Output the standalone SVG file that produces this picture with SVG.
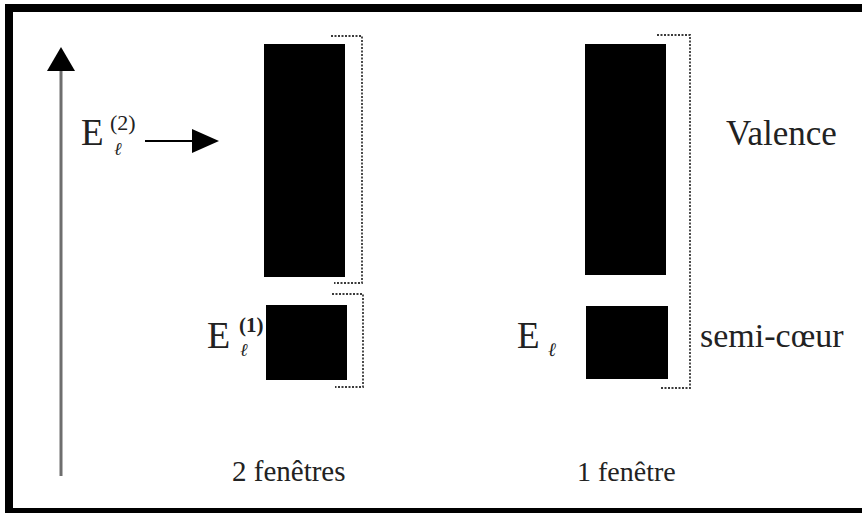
<svg xmlns="http://www.w3.org/2000/svg" width="862" height="513" viewBox="0 0 862 513">
  <defs>
    <style>
      .band { fill: #000; }
      .window { fill: none; stroke: #3a3a3a; stroke-width: 1.8; stroke-dasharray: 2 1.5; }
      .lbl { fill: #222; }
      .frame { fill: #000; }
    </style>
  </defs>

  <rect width="862" height="513" fill="#fff"/>

  <!-- outer frame (open on the right) -->
  <g id="frame">
    <rect class="frame" x="5" y="4" width="857" height="8"/>
    <rect class="frame" x="5" y="4" width="8" height="509"/>
    <rect class="frame" x="5" y="508" width="857" height="5"/>
  </g>

  <!-- energy axis and pointer -->
  <g id="connectors">
    <line x1="61" y1="68" x2="61" y2="476" stroke="#6e6e6e" stroke-width="3"/>
    <polygon points="47,71 75,71 61,47" fill="#000"/>
    <line x1="145" y1="141" x2="195" y2="141" stroke="#000" stroke-width="2"/>
    <polygon points="192,129 219,141 192,153" fill="#000"/>
  </g>

  <!-- two-window setup -->
  <g id="valence-2w">
    <rect class="band" x="264" y="44" width="81" height="233"/>
    <path class="window" d="M331,36 H362 V283 H334"/>
  </g>
  <g id="semicore-2w">
    <rect class="band" x="266" y="305" width="81" height="75"/>
    <path class="window" d="M332,294 H363 V387 H335"/>
  </g>

  <!-- single-window setup -->
  <g id="valence-1w">
    <rect class="band" x="585" y="44" width="81" height="231"/>
  </g>
  <g id="semicore-1w">
    <rect class="band" x="586" y="306" width="82" height="73"/>
  </g>
  <g id="window-1w">
    <path class="window" d="M657,35 H690 V388 H660"/>
  </g>

  <g font-family="Liberation Serif, Times New Roman, DejaVu Serif, serif">
    <!-- linearisation energies -->
    <g id="label-E2">
      <text class="lbl" x="81" y="145" font-size="37">E</text>
      <text class="lbl" x="110" y="130" font-size="22">(2)</text>
      <text class="lbl" x="114" y="155" font-size="18" font-style="italic">ℓ</text>
    </g>
    <g id="label-E1">
      <text class="lbl" x="207" y="348" font-size="38">E</text>
      <text class="lbl" x="239" y="332" font-size="21" font-weight="bold">(1)</text>
      <text class="lbl" x="240" y="356" font-size="18" font-style="italic">ℓ</text>
    </g>
    <g id="label-E">
      <text class="lbl" x="517" y="348" font-size="37">E</text>
      <text class="lbl" x="548" y="356" font-size="19" font-style="italic">ℓ</text>
    </g>

    <g id="label-valence">
      <text class="lbl" x="726" y="145" font-size="35">Valence</text>
    </g>
    <g id="label-semicore">
      <text class="lbl" x="700" y="347" font-size="34">semi-cœur</text>
    </g>
    <g id="label-2w">
      <text class="lbl" x="232" y="481" font-size="29">2 fenêtres</text>
    </g>
    <g id="label-1w">
      <text class="lbl" x="577" y="481" font-size="28">1 fenêtre</text>
    </g>
  </g>
</svg>
